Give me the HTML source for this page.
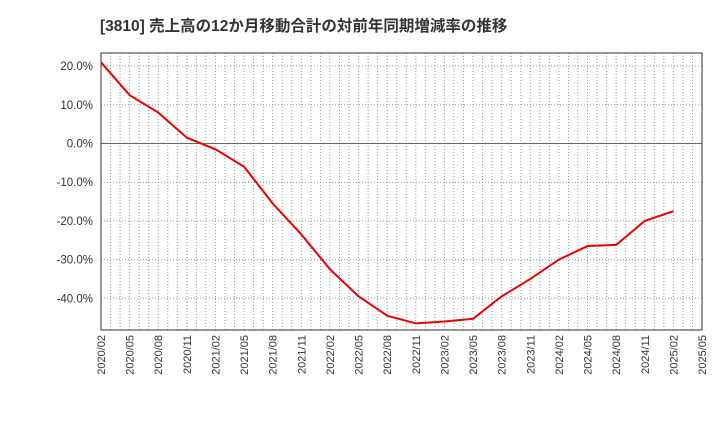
<!DOCTYPE html>
<html><head><meta charset="utf-8"><style>
body{margin:0;background:#fff;font-family:"Liberation Sans","Noto Sans CJK JP",sans-serif}
</style></head><body>
<svg id="c" width="720" height="440" xmlns="http://www.w3.org/2000/svg"></svg>
<script>
const categories=["2020/02","2020/05","2020/08","2020/11","2021/02","2021/05","2021/08","2021/11","2022/02","2022/05","2022/08","2022/11","2023/02","2023/05","2023/08","2023/11","2024/02","2024/05","2024/08","2024/11","2025/02","2025/05"];
const values=[21,12.5,8,1.5,-1.5,-6,-15.5,-23.5,-32.5,-39.5,-44.5,-46.5,-46,-45.3,-39.5,-35,-30,-26.5,-26.2,-20,-17.5];
const yTicks=[20,10,0,-10,-20,-30,-40];
const yLabels=["20.0%","10.0%","0.0%","-10.0%","-20.0%","-30.0%","-40.0%"];
const L=101,R=702,T=53,B=330,yMax=23.4,yMin=-48.2;
const xs=i=>L+(R-L)*i/(categories.length-1);
const ys=v=>T+(B-T)*(yMax-v)/(yMax-yMin);
const svg=document.getElementById('c');const NS="http://www.w3.org/2000/svg";
function mk(t,a,p){const e=document.createElementNS(NS,t);for(const k in a)e.setAttribute(k,a[k]);(p||svg).appendChild(e);return e;}
const title=mk('text',{x:100,y:31,'font-size':15.5,'font-weight':'bold',fill:'#333'});


title.textContent="[3810]  売上高の12か月移動合計の対前年同期増減率の推移";
for(let m=0;m<=(categories.length-1)*3;m++){
 const x=xs(m/3);
 const g=mk('line',{x1:x,x2:x,y1:T,y2:B,stroke:'#999','stroke-dasharray':'1,2','stroke-width':1});
 
 
}
categories.forEach((c,i)=>{
 const t=mk('text',{transform:`translate(${xs(i)+4},${B+5}) rotate(-90)`,'text-anchor':'end','font-size':11,fill:'#333'});
 
 
 t.textContent=c;
});
yTicks.forEach((v,i)=>{
 const g=mk('line',{x1:L,x2:R,y1:ys(v),y2:ys(v),stroke:v===0?'#666':'#999','stroke-dasharray':v===0?'':'1,2','stroke-width':1});
 
 
 const t=mk('text',{x:L-8,y:ys(v)+4,'text-anchor':'end','font-size':11.5,fill:'#333'});
 
 
 t.textContent=yLabels[i];
});
const f=mk('rect',{x:L,y:T,width:R-L,height:B-T,fill:'none',stroke:'#333','stroke-width':1});


const ln=mk('polyline',{points:values.map((v,i)=>xs(i)+','+ys(v)).join(' '),fill:'none',stroke:'#e00','stroke-width':2});


</script>
</body></html>
